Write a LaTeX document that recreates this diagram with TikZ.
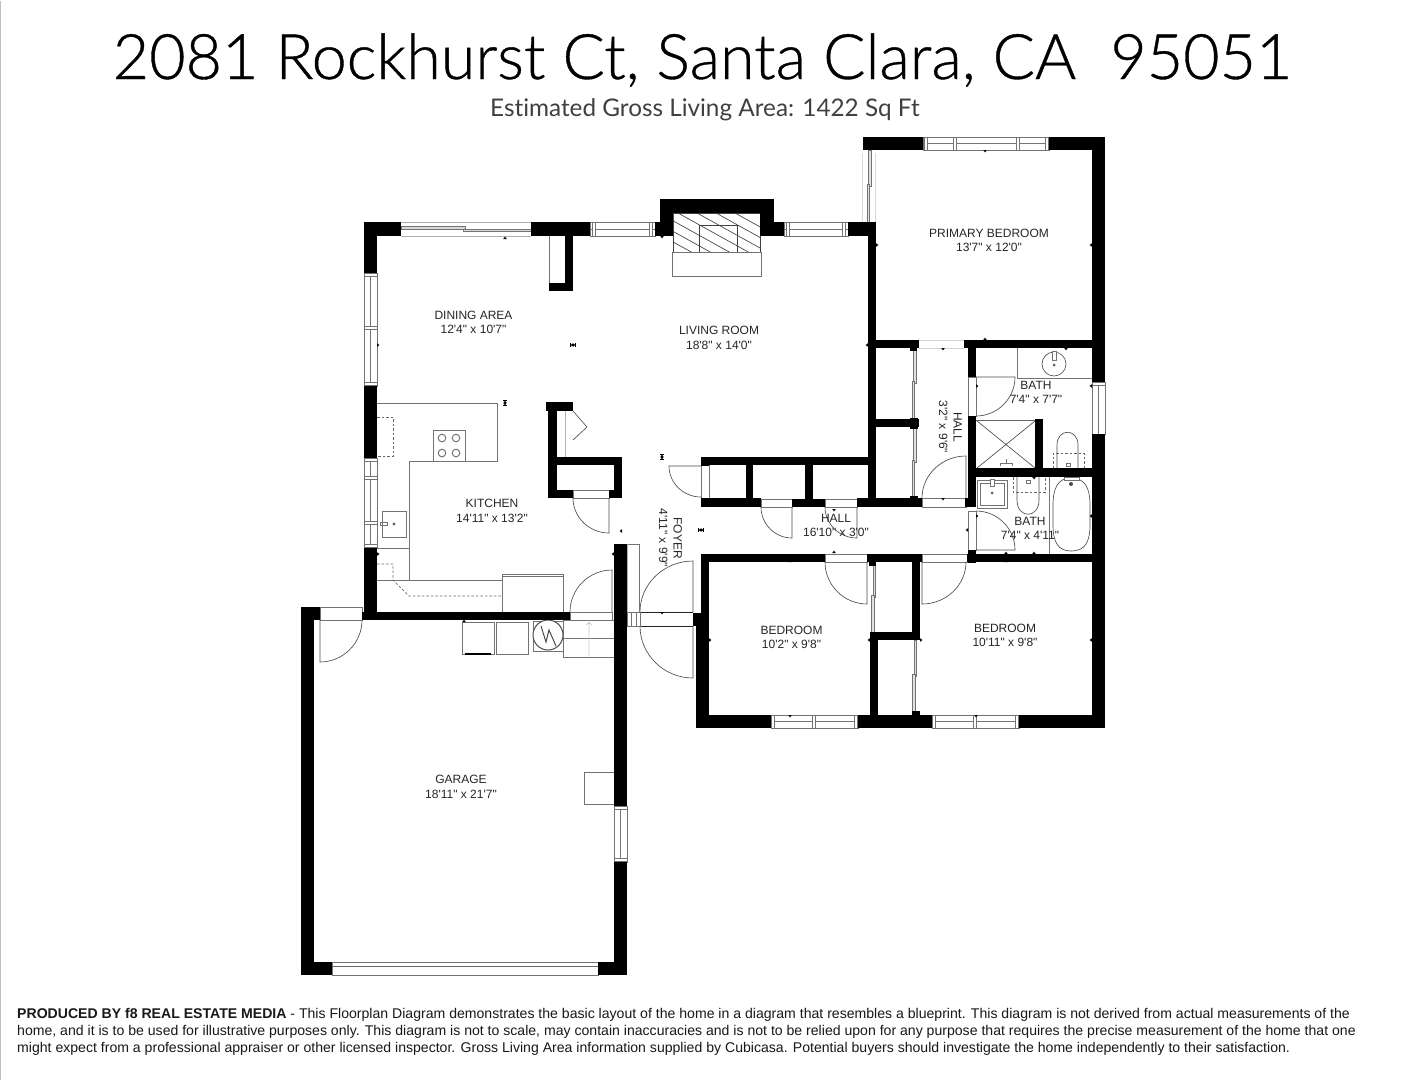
\documentclass[tikz,border=0pt]{standalone}
\usepackage{fontspec}
\setmainfont{Liberation Sans}
\newfontfamily\lblfont{Liberation Sans}
\newfontfamily\titlefont[Ligatures=NoCommon]{Lato}
\newfontfamily\titlelight[RawFeature={embolden=0.6}]{Lato Light}
\tikzset{
  thinln/.style={draw=black!55,line width=0.65pt},
  darkln/.style={draw=black!70,line width=0.65pt},
  dashln/.style={draw=black!60,line width=0.7pt,dash pattern=on 2.5pt off 2pt},
  roomlabel/.style={font=\lblfont\fontsize{12}{14.5}\selectfont,align=center,text=black!85,inner sep=0pt},
  footline/.style={font=\fontsize{14.08}{15}\selectfont,anchor=base west,inner sep=0pt,text=black!90},
}
\newcommand{\wl}[4]{\fill[black] (#1,#2) rectangle (#3,#4);}
\newcommand{\jamb}[4]{\draw[thinln,fill=white] (#1,#2) rectangle (#3,#4);}
\newcommand{\door}[6]{%
  \pgfmathsetmacro\cax{#3+0.55*(#5-#1)}\pgfmathsetmacro\cay{#4+0.55*(#6-#2)}%
  \pgfmathsetmacro\cbx{#5+0.55*(#3-#1)}\pgfmathsetmacro\cby{#6+0.55*(#4-#2)}%
  \draw[darkln] (#1,#2)--(#3,#4) .. controls (\cax,\cay) and (\cbx,\cby) .. (#5,#6);}
% horizontal window: x1 x2 y1 y2, list of mullions
\newcommand{\winh}[5]{%
  \draw[thinln,fill=white] (#1,#3) rectangle (#2,#4);
  \draw[thinln] (#1,{(#3+#4)/2}) -- (#2,{(#3+#4)/2});
  \foreach \m in {#5}{\draw[thinln,fill=white] (\m-1.6,#3) rectangle (\m+1.6,#4);}}
\newcommand{\winv}[5]{%
  \draw[thinln,fill=white] (#1,#3) rectangle (#2,#4);
  \draw[thinln] ({(#1+#2)/2},#3) -- ({(#1+#2)/2},#4);
  \foreach \m in {#5}{\draw[thinln,fill=white] (#1,\m-1.6) rectangle (#2,\m+1.6);}}
% vertical slider: x y1 y2
\newcommand{\slidv}[3]{%
  \pgfmathsetmacro\ym{(#2+#3)/2}%
  \draw[thinln,fill=black!12] (#1,#2) rectangle (#1+2.4,\ym);
  \draw[thinln,fill=black!12] (#1+1.2,\ym-2) rectangle (#1-1.2,#3);}
\newcommand{\tu}[2]{\fill[black] (#1-1.8,#2)--(#1+1.8,#2)--(#1,#2-2.4)--cycle;}
\newcommand{\td}[2]{\fill[black] (#1-1.8,#2)--(#1+1.8,#2)--(#1,#2+2.4)--cycle;}
\newcommand{\tl}[2]{\fill[black] (#1,#2-1.8)--(#1,#2+1.8)--(#1-2.4,#2)--cycle;}
\newcommand{\tr}[2]{\fill[black] (#1,#2-1.8)--(#1,#2+1.8)--(#1+2.4,#2)--cycle;}
\newcommand{\ih}[2]{\fill[black] (#1-3,#2-2.2) rectangle (#1-2.3,#2+2.2); \fill[black] (#1+3,#2-2.2) rectangle (#1+2.3,#2+2.2); \fill[black] (#1-2.5,#2)--(#1,#2-1.6)--(#1,#2+1.6)--cycle; \fill[black] (#1+2.5,#2)--(#1,#2-1.6)--(#1,#2+1.6)--cycle;}
\newcommand{\iv}[2]{\fill[black] (#1-2.2,#2-3) rectangle (#1+2.2,#2-2.3); \fill[black] (#1-2.2,#2+3) rectangle (#1+2.2,#2+2.3); \fill[black] (#1,#2-2.5)--(#1-1.6,#2)--(#1+1.6,#2)--cycle; \fill[black] (#1,#2+2.5)--(#1-1.6,#2)--(#1+1.6,#2)--cycle;}
\begin{document}
\begin{tikzpicture}[x=1pt,y=-1pt]
\useasboundingbox (0,0) rectangle (1407,1080);
\fill[white] (0,0) rectangle (1407,1080);
\draw[black!25,line width=0.8pt] (0.5,1080)--(0.5,0.5);

% titles
\node[font=\titlelight\fontsize{62.8}{70}\selectfont,inner sep=0pt,anchor=base] (title) at (702.5,79) {2081 Rockhurst Ct, Santa Clara, CA\ \ 95051};
\node[font=\titlefont\fontsize{24.3}{28}\selectfont,inner sep=0pt,anchor=base,text=black!75] (subtitle) at (705,116) {Estimated Gross Living Area: 1422 Sq Ft};

% ---- kitchen fixtures
\draw[thinln] (377,403)--(497,403)--(497,461)--(409,461)--(409,580);
\draw[thinln] (377,580)--(502,580);
\draw[thinln] (377,548)--(409,548);
\draw[dashln] (377,417)--(393,417)--(393,456)--(377,456);
\draw[dashln] (377,564)--(393,564)--(393,580)--(409,596)--(502,596);
\draw[thinln,fill=white,line width=1pt] (433,430) rectangle (465,461);
\foreach \cx in {442,456}{\foreach \cy in {438,453}{\draw[thinln,line width=1pt] (\cx,\cy) circle (3.8);}}
\draw[thinln,fill=white] (382,511) rectangle (406,537);
\draw[thinln] (380,522) rectangle (387,525);
\fill[black!60] (394,524) circle (1.6);
\draw[thinln,fill=white] (502,574) rectangle (563,612);
\draw[thinln] (502,576)--(563,576);

% ---- fireplace
\begin{scope}
\clip (673,213) rectangle (760,252);
\foreach \t in {-71,-52,-33,-14,5,24,43,62}{\draw[black!70,line width=0.7pt] (673+\t,213)--(763+\t,263);}
\end{scope}
\draw[black!75,line width=0.8pt] (673,213) rectangle (760,252);
\draw[black!75,line width=0.9pt] (699,225) rectangle (737,252);
\draw[thinln] (672,252) rectangle (761,276);

% ---- windows and sliders
\draw[black!30,line width=0.6pt] (401,222)--(531,222) (401,236)--(531,236);
\draw[thinln,fill=black!15] (401,226.5) rectangle (465,229);
\draw[thinln,fill=black!15] (463,229) rectangle (531,231.5);
\winh{590}{655}{222}{236}{594,651}
\winh{784}{848}{222}{236}{788,844}
\winh{923}{1049}{137}{150}{926,955,1018,1047}
\winh{771}{858}{715}{728}{773,814,856}
\winh{932}{1019}{715}{728}{934,975,1017}
\winv{364}{377}{273}{386}{275,328,384}
\winv{364}{377}{458}{548}{460,478,523,546}
\winv{1092}{1105}{382}{434}{384}
\winv{614}{627}{806}{862}{808,860}
\draw[black!15,line width=0.6pt] (862,153)--(862,222);
\draw[black!15,line width=0.6pt] (875,153)--(875,222);
\slidv{868.5}{150}{222}
\slidv{913.5}{348}{419}
\slidv{913.5}{427}{497}
\slidv{873}{562}{632}
\slidv{914}{640}{712}

% ---- door jambs
\jamb{573}{490}{609}{498}
\jamb{701}{465}{709}{498}
\jamb{761}{499}{792}{507}
\jamb{825}{499}{857}{507}
\jamb{825}{554}{867}{562}
\jamb{922}{554}{967}{562}
\jamb{922}{498}{966}{507}
\jamb{968}{377}{976}{416}
\jamb{968}{511}{976}{550}
\jamb{320}{607}{362}{620}
\jamb{570}{612}{612}{620}

% ---- doors
\door{609}{498}{609}{533}{573}{498}
\door{701}{466}{669}{466}{701}{497}
\door{792}{507}{792}{538}{761}{507}
\door{857}{507}{857}{538}{825}{507}
\door{867}{562}{867}{604}{825}{562}
\door{922}{562}{922}{604}{966}{562}
\door{966}{498}{966}{456}{922}{498}
\door{976}{377}{1015}{377}{976}{416}
\door{976}{550}{1015}{550}{976}{511}
\door{612}{612}{612}{570}{570}{612}
\door{320}{620}{320}{662}{362}{620}
\door{693}{612}{693}{561}{640}{612}
\door{693}{626}{693}{678}{640}{626}
\draw[black!85,line width=0.8pt] (640,612)--(693,612) (640,626)--(693,626);
\draw[thinln] (627,612) rectangle (640,626);
\draw[thinln] (631,612)--(631,626) (636,612)--(636,626);
\draw[thinln] (627,544)--(639,544)--(639,612);
\draw[thinln] (627,626)--(639,626);

% pantry bifold
\draw[black!30,line width=0.6pt] (565,411)--(565,457);
\draw[darkln] (573,411)--(587,427)--(573,440);

% ---- upper bath
\draw[thinln] (1017,348)--(1017,378)--(1092,378);
\draw[darkln,fill=white] (1054,364) circle (12);
\draw[thinln,fill=white] (1052,351) rectangle (1056,360);
\fill[black!65] (1054,365) circle (1.5);
\draw[black!60,line width=1.4pt] (976,420.5)--(1035,420.5);
\draw[darkln] (977,421)--(1035,468) (1035,421)--(977,468);
\draw[thinln] (1000,466)--(1000,463)--(1012,463)--(1012,466) (1006,463)--(1006,459);
\draw[darkln] (1057,468)--(1057,445) .. controls (1057,428) and (1078,428) .. (1078,445)--(1078,468);
\draw[dashln] (1053,468)--(1053,453)--(1084,453)--(1084,468);
\draw[thinln] (1066,463) rectangle (1070,466);

% ---- lower bath
\draw[thinln,fill=white,line width=1pt] (977,480) rectangle (1007,508);
\draw[thinln] (980,483) rectangle (1004,505);
\draw[thinln,fill=white] (990,479) rectangle (994,486);
\fill[black!65] (992,493) circle (1.5);
\draw[darkln] (1017,477)--(1017,500) .. controls (1017,519) and (1039,519) .. (1039,500)--(1039,477);
\draw[dashln] (1013,477)--(1013,492)--(1045,492)--(1045,477);
\draw[thinln] (1026,480) rectangle (1030,483);
\draw[thinln] (1049,477)--(1049,554);
\draw[darkln,fill=white] (1053,505) .. controls (1053,488) and (1058,478) .. (1071,478) .. controls (1085,478) and (1090,488) .. (1090,505)--(1090,525) .. controls (1090,542) and (1085,551) .. (1071,551) .. controls (1058,551) and (1053,542) .. (1053,525)--cycle;
\draw[thinln,fill=white] (1064,477) rectangle (1079,480);
\fill[black!70] (1071,484) circle (2);

% ---- garage utility
\draw[thinln,line width=1pt] (462,622) rectangle (494,654);
\draw[black,line width=1.2pt] (465,654)--(491,654);
\draw[thinln,line width=1pt] (496,622) rectangle (528,654);
\draw[thinln] (533,621) rectangle (563,651);
\draw[darkln,line width=1pt,fill=white] (548,635) circle (15);
\draw[darkln,line width=1pt] (541,626)--(546,642)--(549,630)--(556,646);
\draw[thinln] (563,620) rectangle (614,657);
\draw[thinln] (563,638)--(614,638);
\draw[black!20,line width=0.7pt] (589,657)--(589,622) (586,625)--(589,622)--(592,625);
\draw[thinln,fill=white] (584,772) rectangle (614,804);
\draw[thinln] (332,962) rectangle (598,975);
\draw[black!60,line width=1.6pt] (332,966.5)--(598,966.5);
\draw[black!30,line width=0.6pt] (627,544)--(627,612);

% hall opening
\draw[black!18,line width=0.6pt] (919,340)--(964,340) (919,348)--(964,348);

% ---- walls
\wl{364}{222}{401}{236}
\wl{364}{222}{377}{273}
\wl{364}{386}{377}{458}
\wl{364}{548}{377}{620}
\wl{362}{612}{570}{620}
\wl{531}{222}{590}{236}
\wl{565}{236}{573}{291}
\wl{549}{283}{573}{291}
\draw[thinln] (549,236)--(549,283);
\wl{655}{222}{673}{236}
\wl{660}{199}{774}{213}
\wl{660}{199}{673}{236}
\wl{760}{199}{774}{236}
\wl{760}{222}{784}{236}
\wl{848}{222}{876}{236}
\wl{868}{222}{876}{507}
% primary
\wl{863}{137}{923}{150}
\wl{1049}{137}{1105}{150}
\wl{1092}{137}{1105}{382}
\wl{1092}{434}{1105}{728}
\wl{868}{340}{919}{348}
\wl{964}{340}{1092}{348}
\wl{868}{419}{919}{427}
\wl{910}{345}{917}{351}
\wl{910}{418}{918}{429}
\wl{910}{496}{918}{507}
% north closets of hall
\wl{701}{457}{868}{465}
\wl{746}{457}{753}{507}
\wl{805}{457}{813}{507}
\wl{701}{457}{709}{466}
\wl{701}{498}{761}{507}
\wl{792}{499}{825}{507}
\wl{857}{498}{922}{507}
\wl{965}{498}{976}{507}
% hall right wall
\wl{968}{340}{976}{377}
\wl{968}{416}{976}{507}
\wl{968}{550}{976}{563}
\wl{976}{468}{1092}{477}
\wl{1035}{419}{1043}{477}
% pantry block
\wl{546}{402}{573}{411}
\wl{548}{402}{557}{498}
\wl{557}{457}{622}{465}
\wl{614}{457}{622}{498}
\wl{548}{490}{573}{498}
\wl{609}{490}{622}{498}
% entrance / garage right wall
\wl{614}{544}{627}{806}
\wl{614}{862}{627}{975}
% bedrooms
\wl{701}{554}{825}{562}
\wl{867}{554}{922}{562}
\wl{967}{554}{1092}{562}
\wl{701}{554}{709}{728}
\wl{693}{613}{709}{626}
\wl{696}{626}{709}{728}
\wl{696}{715}{771}{728}
\wl{858}{715}{932}{728}
\wl{1019}{715}{1105}{728}
\wl{870}{632}{878}{715}
\wl{870}{632}{920}{640}
\wl{912}{554}{920}{640}
\wl{869}{561}{876}{566}
\wl{912}{711}{920}{717}
% garage
\wl{301}{607}{320}{620}
\wl{301}{607}{314}{975}
\wl{301}{962}{332}{975}
\wl{598}{962}{627}{975}

% ---- dimension ticks
\tu{505}{239}
\tr{377}{345}
\ih{573}{345}
\iv{505}{403}
\td{662}{236}
\tl{868}{345}
\tr{876}{245}
\tl{1092}{245}
\td{985}{150}
\tu{985}{340}
\tl{622}{531}
\ih{701}{530}
\iv{662}{457}
\tr{377}{554}
\tl{614}{554}
\td{505}{612}
\tu{464}{622}
\td{834}{509}
\tu{834}{553}
\tu{790}{562}
\tu{1006}{562}
\tu{1006}{554}
\tl{870}{640}
\tr{709}{640}
\tr{920}{640}
\tl{1092}{640}
\td{790}{715}
\td{976}{715}
\td{662}{612}
\tr{976}{386}
\tl{1092}{386}
\td{1066}{348}
\td{943}{348}
\td{943}{498}
\tr{968}{424}
\td{1034}{477}
\tu{1034}{554}
\tr{976}{516}
\tl{1092}{516}
\tl{968}{530}

% ---- room labels
\node[roomlabel] (primary) at (989,240.5) {PRIMARY BEDROOM\\13'7" x 12'0"};
\node[roomlabel] (dining) at (473.5,322.5) {DINING AREA\\12'4" x 10'7"};
\node[roomlabel] (living) at (719,338) {LIVING ROOM\\18'8" x 14'0"};
\node[roomlabel] (kitchen) at (492,511) {KITCHEN\\14'11" x 13'2"};
\node[roomlabel,rotate=-90] (hallv) at (950.5,427) {HALL\\3'2" x 9'6"};
\node[roomlabel,rotate=-90] (foyer) at (670.5,538) {FOYER\\4'11" x 9'9"};
\node[roomlabel] (hallh) at (836,525.5) {HALL\\16'10" x 3'0"};
\node[roomlabel] (bath1) at (1036,392.5) {BATH\\7'4" x 7'7"};
\node[roomlabel] (bath2) at (1030,528.5) {BATH\\7'4" x 4'11"};
\node[roomlabel] (bed1) at (791.5,637.5) {BEDROOM\\10'2" x 9'8"};
\node[roomlabel] (bed2) at (1005,635.5) {BEDROOM\\10'11" x 9'8"};
\node[roomlabel] (garage) at (461,787) {GARAGE\\18'11" x 21'7"};

% ---- footer
\node[footline] (f1) at (17,1018) {\textbf{PRODUCED BY f8 REAL ESTATE MEDIA} - This Floorplan Diagram demonstrates the basic layout of the home in a diagram that resembles a blueprint. This diagram is not derived from actual measurements of the};
\node[footline] (f2) at (17,1035) {home, and it is to be used for illustrative purposes only. This diagram is not to scale, may contain inaccuracies and is not to be relied upon for any purpose that requires the precise measurement of the home that one};
\node[footline] (f3) at (17,1052) {might expect from a professional appraiser or other licensed inspector. Gross Living Area information supplied by Cubicasa. Potential buyers should investigate the home independently to their satisfaction.};
\end{tikzpicture}
\end{document}
